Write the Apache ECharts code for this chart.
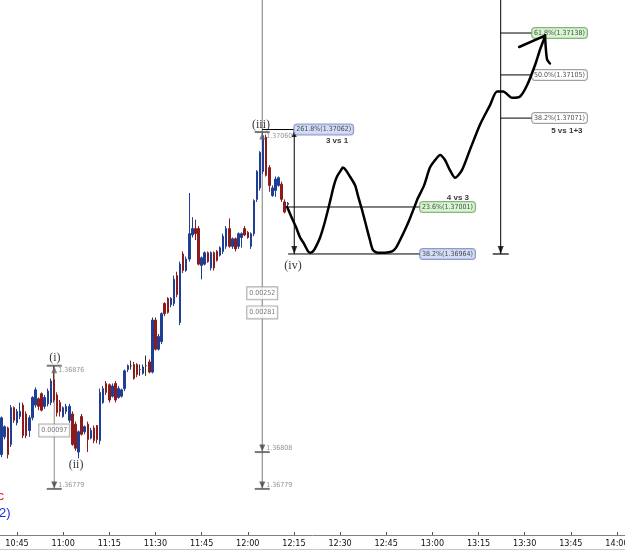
<!DOCTYPE html>
<html>
<head>
<meta charset="utf-8">
<script src="https://cdn.jsdelivr.net/npm/echarts@6/dist/echarts.min.js"></script>
<style>
html,body{margin:0;padding:0;background:#fff;}
#main{width:625px;height:550px;}
</style>
</head>
<body>
<div id="main"></div>
<script>
//1分钟K线, 第一根 10:40
var startMinute = 640;
//[open, close, low, high]
var candles = [
	[1.36806,1.36835,1.36804,1.36836],[1.36820,1.36828,1.36818,1.36829],[1.36827,1.36806,1.36803,1.36828],
	[1.36814,1.36843,1.36812,1.36845],[1.36843,1.36833,1.36831,1.36844],[1.36831,1.36840,1.36829,1.36842],
	[1.36836,1.36840,1.36834,1.36847],[1.36845,1.36821,1.36819,1.36847],[1.36838,1.36821,1.36819,1.36840],
	[1.36825,1.36835,1.36820,1.36837],[1.36835,1.36851,1.36833,1.36852],[1.36845,1.36857,1.36843,1.36859],
	[1.36850,1.36844,1.36841,1.36851],[1.36854,1.36841,1.36840,1.36855],[1.36844,1.36851,1.36842,1.36853],
	[1.36846,1.36856,1.36844,1.36858],[1.36847,1.36864,1.36845,1.36866],[1.36865,1.36849,1.36847,1.36876],
	[1.36853,1.36839,1.36836,1.36855],[1.36847,1.36840,1.36836,1.36849],[1.36836,1.36843,1.36835,1.36844],
	[1.36840,1.36844,1.36838,1.36846],[1.36833,1.36844,1.36831,1.36846],[1.36838,1.36814,1.36813,1.36840],
	[1.36830,1.36811,1.36809,1.36832],[1.36808,1.36824,1.36803,1.36825],[1.36836,1.36822,1.36821,1.36838],
	[1.36824,1.36828,1.36822,1.36829],[1.36830,1.36818,1.36808,1.36832],[1.36819,1.36825,1.36818,1.36827],
	[1.36827,1.36817,1.36815,1.36829],[1.36829,1.36818,1.36815,1.36829],[1.36817,1.36855,1.36814,1.36858],
	[1.36847,1.36858,1.36846,1.36860],[1.36862,1.36855,1.36853,1.36864],[1.36861,1.36849,1.36847,1.36862],
	[1.36852,1.36860,1.36851,1.36862],[1.36862,1.36849,1.36847,1.36864],[1.36851,1.36858,1.36850,1.36860],
	[1.36852,1.36857,1.36851,1.36858],[1.36858,1.36872,1.36856,1.36873],[1.36873,1.36876,1.36871,1.36877],
	[1.36876,1.36876,1.36873,1.36880],[1.36877,1.36866,1.36865,1.36879],[1.36877,1.36869,1.36867,1.36878],
	[1.36873,1.36873,1.36868,1.36877],[1.36870,1.36875,1.36869,1.36877],[1.36876,1.36876,1.36868,1.36884],
	[1.36879,1.36871,1.36870,1.36881],[1.36871,1.36912,1.36870,1.36914],[1.36912,1.36889,1.36888,1.36914],
	[1.36889,1.36899,1.36888,1.36901],[1.36895,1.36917,1.36893,1.36918],[1.36925,1.36917,1.36915,1.36926],
	[1.36929,1.36918,1.36917,1.36930],[1.36924,1.36929,1.36922,1.36930],[1.36925,1.36944,1.36923,1.36947],
	[1.36947,1.36932,1.36930,1.36950],[1.36910,1.36956,1.36908,1.36958],[1.36964,1.36951,1.36949,1.36966],
	[1.36951,1.36960,1.36950,1.36962],[1.36960,1.36980,1.36958,1.37012],[1.36979,1.36984,1.36977,1.36993],
	[1.36984,1.36980,1.36975,1.36991],[1.36984,1.36956,1.36955,1.36986],[1.36955,1.36961,1.36944,1.36962],
	[1.36956,1.36965,1.36955,1.36966],[1.36965,1.36958,1.36957,1.36966],[1.36953,1.36965,1.36951,1.36966],
	[1.36965,1.36953,1.36951,1.36966],[1.36966,1.36959,1.36958,1.36967],[1.36963,1.36969,1.36962,1.36970],
	[1.36966,1.36978,1.36964,1.36980],[1.36970,1.36984,1.36968,1.36986],[1.36984,1.36970,1.36969,1.36992],
	[1.36970,1.36976,1.36968,1.36977],[1.36976,1.36968,1.36966,1.36977],[1.36970,1.36980,1.36968,1.36981],
	[1.36977,1.36980,1.36969,1.36981],[1.36984,1.36979,1.36978,1.36986],[1.36981,1.36977,1.36976,1.36982],
	[1.36970,1.36980,1.36968,1.36981],[1.36980,1.37006,1.36978,1.37007],[1.37007,1.37029,1.37005,1.37030],
	[1.37016,1.37044,1.37014,1.37045],[1.37029,1.37057,1.37027,1.37060],[1.37056,1.37026,1.37025,1.37058],
	[1.37032,1.37018,1.37013,1.37034],[1.37010,1.37016,1.37009,1.37018],[1.37014,1.37023,1.37009,1.37025],
	[1.37018,1.37024,1.37017,1.37025],[1.37019,1.37007,1.37005,1.37021],[1.37005,1.36997,1.36996,1.37007],
	[1.37003,1.37004,1.37001,1.37005]
];
//时间轴刻度(分钟)
var tickMinutes = [645,660,675,690,705,720,735,750,765,780,795,810,825,840];
//手绘曲线 [分钟, 价格]
var handCurve = [
	[732.8,1.37001],[734.4,1.36992],[735.7,1.36985],[737.0,1.36977],[738.3,1.36972],[739.6,1.36966],
	[740.2,1.36965],[741.2,1.36966],[742.2,1.36970],[743.5,1.36977],[744.8,1.36987],[746.1,1.36999],
	[747.0,1.37008],[748.0,1.37018],[749.0,1.37025],[750.3,1.37030],[750.9,1.37032],[751.9,1.37030],
	[753.2,1.37025],[754.9,1.37018],[755.8,1.37010],[757.1,1.36999],[758.4,1.36987],[759.7,1.36975],
	[760.7,1.36967],[762.3,1.36965],[764.6,1.36965],[766.9,1.36966],[768.2,1.36969],[769.5,1.36975],
	[771.1,1.36983],[772.7,1.36992],[774.0,1.37000],[775.3,1.37008],[777.3,1.37018],[779.2,1.37032],
	[780.9,1.37038],[782.5,1.37042],[784.1,1.37038],[785.7,1.37030],[787.4,1.37024],[789.6,1.37030],
	[792.2,1.37046],[795.5,1.37066],[798.7,1.37081],[801.0,1.37092],[803.0,1.37092],[805.9,1.37087],
	[808.5,1.37088],[810.8,1.37097],[813.4,1.37113],[815.0,1.37125],[816.6,1.37135]
];
var handArrowA = [[808.2,1.37127],[816.6,1.37136]];
var handArrowB = [[816.6,1.37136],[816.9,1.37125],[817.3,1.37117],[818.2,1.37114]];
//测量工具 (i)
var measure1Time = 657.1;
var measure1Levels = [1.36876, 1.36779];
var measure1Boxes = [['0.00097', 1.36825]];
//测量工具 (iii)
var measure3Time = 724.7;
var measure3Levels = [1.37060, 1.36808, 1.36779];
var measure3Boxes = [['0.00252', 1.36933], ['0.00281', 1.36918]];
//斐波那契 左 (3 vs 1, 4 vs 3)
var fibLeftTime = 735.1;
var fibLeftEnd = 776.0;
var fibLeft = [['261.8%', 1.37062, 724.7], ['23.6%', 1.37001, 732.8], ['38.2%', 1.36964, 733.1]];
//斐波那契 右 (5 vs 1+3)
var fibRightTime = 802.2;
var fibRightEnd = 812.4;
var fibRightBase = 1.36964;
var fibRight = [['61.8%', 1.37138], ['50.0%', 1.37105], ['38.2%', 1.37071]];
//文字
var notes = [['3 vs 1', 749.0, 1.37053], ['4 vs 3', 788.3, 1.37008], ['5 vs 1+3', 823.7, 1.37061]];
var waveLabels = [['(i)', 657.3, 1.36882], ['(ii)', 664.2, 1.36798], ['(iii)', 724.3, 1.37066], ['(iv)', 734.7, 1.36955]];

var yMin = 1.367427, yMax = 1.37164;
var smallFont = "'Liberation Sans Narrow','DejaVu Sans Condensed',Arial,sans-serif";
var boxColors = {
	'261.8%': ['#c9d4f3', '#7083bb'], '23.6%': ['#cdf2c4', '#6f9c65'], '38.2%L': ['#c9d4f3', '#7083bb'],
	'61.8%': ['#cdf2c4', '#6f9c65'], '50.0%': ['#ffffff', '#888888'], '38.2%R': ['#ffffff', '#888888']
};

function fmtTime(v) {
	var h = Math.floor(v / 60), m = Math.round(v % 60);
	return h + ':' + (m < 10 ? '0' : '') + m;
}
function seg(points, color, width) {
	return {
		type: 'line', data: points, symbol: 'none', silent: true, animation: false, z: 3,
		lineStyle: {color: color, width: width}
	};
}
function fibBox(text, fill, border) {
	return {
		show: true, position: 'right', distance: 0, formatter: text,
		fontSize: 7, fontFamily: smallFont, color: '#222',
		backgroundColor: fill, borderColor: border, borderWidth: 1, borderRadius: 3, padding: [2, 2, 1, 2]
	};
}

var dom = document.getElementById('main');
var myChart = echarts.init(dom);
var series = [];

//K线
series.push({
	type: 'candlestick',
	data: candles.map(function(c, i) { return [startMinute + i, c[0], c[1], c[2], c[3]]; }),
	encode: {x: 0, y: [1, 2, 3, 4]},
	barWidth: 2,
	z: 4,
	itemStyle: {
		color: '#1f3f95', color0: '#8e1b1b', borderColor: '#1f3f95', borderColor0: '#8e1b1b',
		borderColorDoji: '#333333', borderWidth: 1
	},
	animation: false
});

//测量工具线
series.push(seg([[measure1Time, measure1Levels[0]], [measure1Time, measure1Levels[1]]], '#8a8a8a', 1));
series.push(seg([[measure3Time, yMax], [measure3Time, measure3Levels[2]]], '#7a7a7a', 1));

var bars = [], upArrows = [], downArrows = [];
measure1Levels.forEach(function(p, i) {
	bars.push([measure1Time, p]);
	(i == 0 ? upArrows : downArrows).push([measure1Time, p, p.toFixed(5)]);
});
measure3Levels.forEach(function(p, i) {
	bars.push([measure3Time, p]);
	(i == 0 ? upArrows : downArrows).push([measure3Time, p, p.toFixed(5)]);
});
series.push({
	type: 'scatter', data: bars, symbol: 'rect', symbolSize: [15, 2], silent: true, animation: false, z: 5,
	itemStyle: {color: '#555'}
});
series.push({
	type: 'scatter', data: upArrows, symbol: 'triangle', symbolSize: [6, 7], symbolOffset: [0, 4],
	silent: true, animation: false, z: 5, itemStyle: {color: '#666'},
	label: {show: true, position: 'right', distance: 1, formatter: function(p) { return p.data[2]; },
		fontSize: 7, fontFamily: smallFont, color: '#777'}
});
series.push({
	type: 'scatter', data: downArrows, symbol: 'triangle', symbolRotate: 180, symbolSize: [6, 7], symbolOffset: [0, -4],
	silent: true, animation: false, z: 5, itemStyle: {color: '#444'},
	label: {show: true, position: 'right', distance: 1, formatter: function(p) { return p.data[2]; },
		fontSize: 7, fontFamily: smallFont, color: '#777'}
});
var diffBoxes = measure1Boxes.map(function(b) { return [measure1Time, b[1], b[0]]; })
	.concat(measure3Boxes.map(function(b) { return [measure3Time, b[1], b[0]]; }));
series.push({
	type: 'scatter', data: diffBoxes, symbolSize: 0, silent: true, animation: false, z: 6,
	label: {show: true, position: 'inside', formatter: function(p) { return p.data[2]; },
		fontSize: 7, fontFamily: smallFont, color: '#555', backgroundColor: '#fff',
		borderColor: '#999', borderWidth: 1, padding: [3, 2, 2, 2]}
});

//斐波那契 左
series.push(seg([[fibLeftTime, fibLeft[0][1]], [fibLeftTime, fibLeft[2][1]]], '#000', 1));
fibLeft.forEach(function(f, i) {
	var end = i == 0 ? fibLeftTime : fibLeftEnd;
	series.push(seg([[f[2], f[1]], [end, f[1]]], '#000', 1));
	var key = i == 2 ? '38.2%L' : f[0];
	series.push({
		type: 'scatter', data: [[end, f[1]]], symbolSize: 0, silent: true, animation: false, z: 6,
		label: fibBox(f[0] + '(' + f[1].toFixed(5) + ')', boxColors[key][0], boxColors[key][1])
	});
});
series.push({
	type: 'scatter', data: [[fibLeftTime, fibLeft[0][1]]], symbol: 'triangle', symbolSize: [5, 7], symbolOffset: [0, 4],
	silent: true, animation: false, z: 5, itemStyle: {color: '#000'}
});
series.push({
	type: 'scatter', data: [[fibLeftTime, fibLeft[2][1]], [fibRightTime, fibRightBase]], symbol: 'triangle',
	symbolRotate: 180, symbolSize: [6, 8], symbolOffset: [0, -4],
	silent: true, animation: false, z: 5, itemStyle: {color: '#000'}
});

//斐波那契 右
series.push(seg([[fibRightTime, yMax], [fibRightTime, fibRightBase]], '#000', 1));
series.push({
	type: 'scatter', data: [[fibRightTime, fibRightBase]], symbol: 'rect', symbolSize: [16, 1.5],
	silent: true, animation: false, z: 5, itemStyle: {color: '#000'}
});
fibRight.forEach(function(f, i) {
	series.push(seg([[fibRightTime, f[1]], [fibRightEnd, f[1]]], '#000', 1));
	var key = i == 2 ? '38.2%R' : f[0];
	series.push({
		type: 'scatter', data: [[fibRightEnd, f[1]]], symbolSize: 0, silent: true, animation: false, z: 6,
		label: fibBox(f[0] + '(' + f[1].toFixed(5) + ')', boxColors[key][0], boxColors[key][1])
	});
});

//手绘曲线
[handCurve, handArrowA, handArrowB].forEach(function(d) {
	series.push({
		type: 'line', data: d, symbol: 'none', smooth: 0.25, silent: true, animation: false, z: 8,
		lineStyle: {color: '#000', width: 2.5, cap: 'round', join: 'round'}
	});
});

//文字
series.push({
	type: 'scatter', data: notes, symbolSize: 0, silent: true, animation: false, z: 7,
	encode: {x: 1, y: 2},
	label: {show: true, position: 'inside', formatter: function(p) { return p.data[0]; },
		fontSize: 8, fontWeight: 'bold', fontFamily: "Arial,'Liberation Sans',sans-serif", color: '#000'}
});
series.push({
	type: 'scatter', data: waveLabels, symbolSize: 0, silent: true, animation: false, z: 7,
	encode: {x: 1, y: 2},
	label: {show: true, position: 'inside', formatter: function(p) { return p.data[0]; },
		fontSize: 12, fontFamily: "'Liberation Serif','DejaVu Serif',serif", color: '#000'}
});

option = {
	backgroundColor: '#fff',
	animation: false,
	grid: {left: 0, right: 0, top: 0, bottom: 15, containLabel: false, outerBoundsMode: 'none'},
	xAxis: {
		type: 'value', min: 639.47, max: 842.6,
		splitLine: {show: false},
		axisLine: {show: true, lineStyle: {color: '#808080', width: 1}},
		axisTick: {show: true, inside: true, length: 3, customValues: tickMinutes, lineStyle: {color: '#555'}},
		axisLabel: {show: true, customValues: tickMinutes, formatter: fmtTime, margin: 4,
			fontSize: 9, fontFamily: smallFont, color: '#111'}
	},
	yAxis: {type: 'value', min: yMin, max: yMax, show: false, scale: true, splitLine: {show: false}},
	graphic: [
		{type: 'text', left: -2, top: 491, style: {text: 'c', fill: '#e8202a', font: "12px 'Liberation Sans',Arial"}},
		{type: 'text', left: -1, top: 507, style: {text: '2)', fill: '#1b2fe0', font: "13px 'Liberation Sans',Arial"}},
		{type: 'line', shape: {x1: 0, y1: 549.5, x2: 625, y2: 549.5}, style: {stroke: '#c8c8c8', lineWidth: 1}}
	],
	series: series
};
if (option && typeof option === "object") {
	myChart.setOption(option, true);
}
</script>
</body>
</html>
